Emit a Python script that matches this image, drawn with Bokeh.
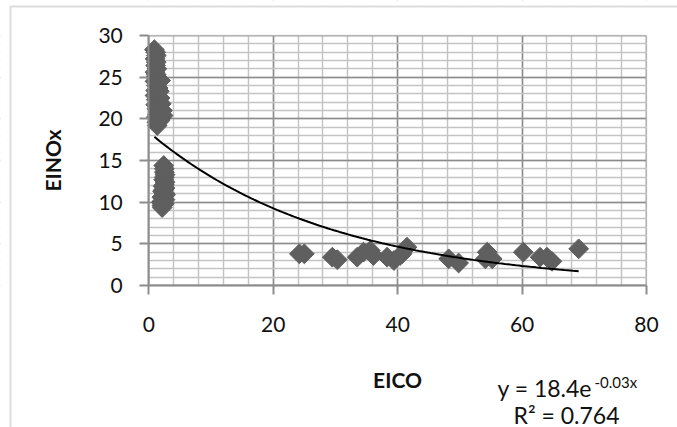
import numpy as np
from bokeh.plotting import figure
from bokeh.models import Range1d, SingleIntervalTicker, Label, BoxAnnotation
from bokeh.embed import file_html
from bokeh.resources import INLINE

# ---- data ----
EICO = [
    # cluster at low EICO, high EINOx
    0.9, 1.1, 1.2, 1.0, 1.2, 1.1, 1.3, 1.0, 1.2, 1.1, 1.4, 1.0, 1.3, 1.6, 1.2,
    1.9, 1.5, 1.1, 1.7, 1.3, 1.0, 1.4, 1.8, 1.2, 1.6, 2.0, 1.1, 1.5, 2.2, 1.3,
    1.9, 1.7, 2.3, 1.4, 1.2, 2.0, 1.6, 1.3, 1.8, 1.35,
    # cluster at low EICO, mid EINOx
    2.4, 2.5, 2.5, 2.6, 2.5, 2.4, 2.6, 2.5, 2.3, 2.6, 2.4, 2.2, 2.5, 2.7, 2.3,
    2.1, 2.4, 2.6, 2.2, 2.0, 2.3, 2.5, 2.1, 2.15,
    # scattered high EICO points
    24.2, 25.0, 29.5, 30.3, 33.5, 34.5, 35.6, 36.1, 38.3, 39.4, 40.4, 40.7,
    41.5, 48.2, 49.8, 54.1, 54.4, 55.2, 60.2, 62.9, 64.0, 64.8, 69.1,
]
EINOX = [
    28.3, 28.0, 27.6, 27.2, 26.8, 26.4, 26.0, 25.6, 25.3, 25.0, 24.8, 24.5,
    24.3, 24.4, 24.0, 24.6, 23.7, 23.4, 23.3, 23.1, 22.8, 22.6, 22.5, 22.3,
    22.1, 21.8, 21.7, 21.5, 21.0, 21.2, 20.9, 20.7, 20.4, 20.5, 20.2, 20.1,
    19.9, 19.6, 19.8, 19.2,
    14.4, 14.0, 13.6, 13.3, 13.0, 12.7, 12.4, 12.1, 11.9, 11.7, 11.5, 11.3,
    11.1, 10.9, 10.7, 10.6, 10.4, 10.3, 10.1, 10.0, 9.9, 9.8, 9.6, 9.35,
    3.8, 3.8, 3.4, 3.1, 3.4, 4.0, 4.2, 3.6, 3.4, 3.0, 3.6, 3.8,
    4.6, 3.2, 2.7, 3.2, 4.0, 3.2, 4.0, 3.4, 3.4, 2.9, 4.4,
]
X_LIMITS = (0, 80)
Y_LIMITS = (0, 30)
X_TICK_STEP = 20
Y_TICK_STEP = 5

# exponential trendline shown on the chart (y = 18.4 e^(-0.03x))
TREND_A = 18.4
TREND_B = -0.0343
EQ_MAIN = "y = 18.4e"
EQ_SUP = "-0.03x"
R2_TEXT = "R\u00b2 = 0.764"

# ---- layout / style ----
W, H = 677, 427
PLOT_L, PLOT_R, PLOT_T, PLOT_B = 148.3, 646.0, 35.0, 285.0   # plot box in pixels
FONT = "Lato"
TEXT = "#111111"
MARK = "#5f5f5f"
MAJOR = "#8c8c8c"
MINOR = "#c4c4c4"

# whole canvas is the frame; the axes are pinned at the data origin
sx = (PLOT_R - PLOT_L) / (X_LIMITS[1] - X_LIMITS[0])
sy = (PLOT_B - PLOT_T) / (Y_LIMITS[1] - Y_LIMITS[0])
x0, x1 = X_LIMITS[0] - PLOT_L / sx, X_LIMITS[1] + (W - PLOT_R) / sx
y0, y1 = Y_LIMITS[0] - (H - PLOT_B) / sy, Y_LIMITS[1] + PLOT_T / sy

p = figure(width=W, height=H, output_backend="svg", toolbar_location=None,
           x_range=Range1d(x0, x1), y_range=Range1d(y0, y1),
           min_border=0, min_border_left=0, min_border_right=0,
           min_border_top=0, min_border_bottom=0,
           x_axis_label="EICO", y_axis_label="EINOx")
p.background_fill_color = "white"
p.border_fill_color = "white"
p.outline_line_color = None

xt = SingleIntervalTicker(interval=X_TICK_STEP, num_minor_ticks=5)
yt = SingleIntervalTicker(interval=Y_TICK_STEP, num_minor_ticks=5)
p.xaxis.ticker = xt
p.xgrid.ticker = xt
p.yaxis.ticker = yt
p.ygrid.ticker = yt
p.xgrid.bounds = X_LIMITS
p.ygrid.bounds = Y_LIMITS

for g in (p.xgrid, p.ygrid):
    g.grid_line_color = MAJOR
    g.grid_line_width = 1.5
    g.minor_grid_line_color = MINOR
    g.minor_grid_line_width = 1.5

# white covers that trim the grid to the plot box
ex = 10
covers = [
    dict(left=x0 - ex, right=x1 + ex, bottom=y0 - ex, top=Y_LIMITS[0]),
    dict(left=x0 - ex, right=x1 + ex, bottom=Y_LIMITS[1], top=y1 + ex),
    dict(left=x0 - ex, right=X_LIMITS[0], bottom=y0 - ex, top=y1 + ex),
    dict(left=X_LIMITS[1], right=x1 + ex, bottom=y0 - ex, top=y1 + ex),
]
for kw in covers:
    p.add_layout(BoxAnnotation(**kw, fill_color="white", fill_alpha=1,
                               line_alpha=0, level="underlay"))
# plot box edge
p.add_layout(BoxAnnotation(left=X_LIMITS[0], right=X_LIMITS[1],
                           bottom=Y_LIMITS[0], top=Y_LIMITS[1],
                           fill_alpha=0, line_color=MAJOR, line_width=1.5,
                           level="underlay"))

p.xaxis.fixed_location = Y_LIMITS[0]
p.yaxis.fixed_location = X_LIMITS[0]
p.xaxis.bounds = X_LIMITS
p.yaxis.bounds = Y_LIMITS

for ax in (p.xaxis, p.yaxis):
    ax.axis_line_color = MAJOR
    ax.axis_line_width = 2
    ax.major_tick_line_color = MAJOR
    ax.major_tick_line_width = 2
    ax.major_tick_out = 9
    ax.major_tick_in = 0
    ax.minor_tick_line_color = None
    ax.major_label_text_font = FONT
    ax.major_label_text_font_size = "21px"
    ax.major_label_text_color = TEXT
    ax.axis_label_text_font = FONT
    ax.axis_label_text_font_size = "21px"
    ax.axis_label_text_font_style = "bold"
    ax.axis_label_text_color = TEXT

p.xaxis.major_label_standoff = 22
p.xaxis.axis_label_standoff = 32
p.yaxis.major_label_standoff = 17
p.yaxis.axis_label_standoff = 30

p.scatter(EICO, EINOX, marker="square", angle=np.pi / 4, size=14,
          fill_color=MARK, line_color=MARK)

tx = np.linspace(min(EICO), max(EICO), 150)
p.line(tx, TREND_A * np.exp(TREND_B * tx), line_color="black", line_width=2)

# trendline equation (screen units: from canvas left / bottom)
p.add_layout(Label(x=497, y=H - 387, x_units="screen", y_units="screen", text=EQ_MAIN,
                   text_font=FONT, text_font_size="23px", text_color=TEXT,
                   text_baseline="alphabetic", text_align="left"))
p.add_layout(Label(x=594, y=H - 381, x_units="screen", y_units="screen", text=EQ_SUP,
                   text_font=FONT, text_font_size="15px", text_color=TEXT,
                   text_baseline="alphabetic", text_align="left"))
p.add_layout(Label(x=513, y=H - 414, x_units="screen", y_units="screen", text=R2_TEXT,
                   text_font=FONT, text_font_size="23px", text_color=TEXT,
                   text_baseline="alphabetic", text_align="left"))

# outer chart-area border (top and left edges visible)
p.add_layout(BoxAnnotation(left=10, right=W + 50, top=H - 6, bottom=-50,
                           left_units="screen", right_units="screen",
                           top_units="screen", bottom_units="screen",
                           fill_alpha=0, line_color="#8c8c8c", line_width=2))

open("out.html", "w").write(file_html(p, INLINE))
